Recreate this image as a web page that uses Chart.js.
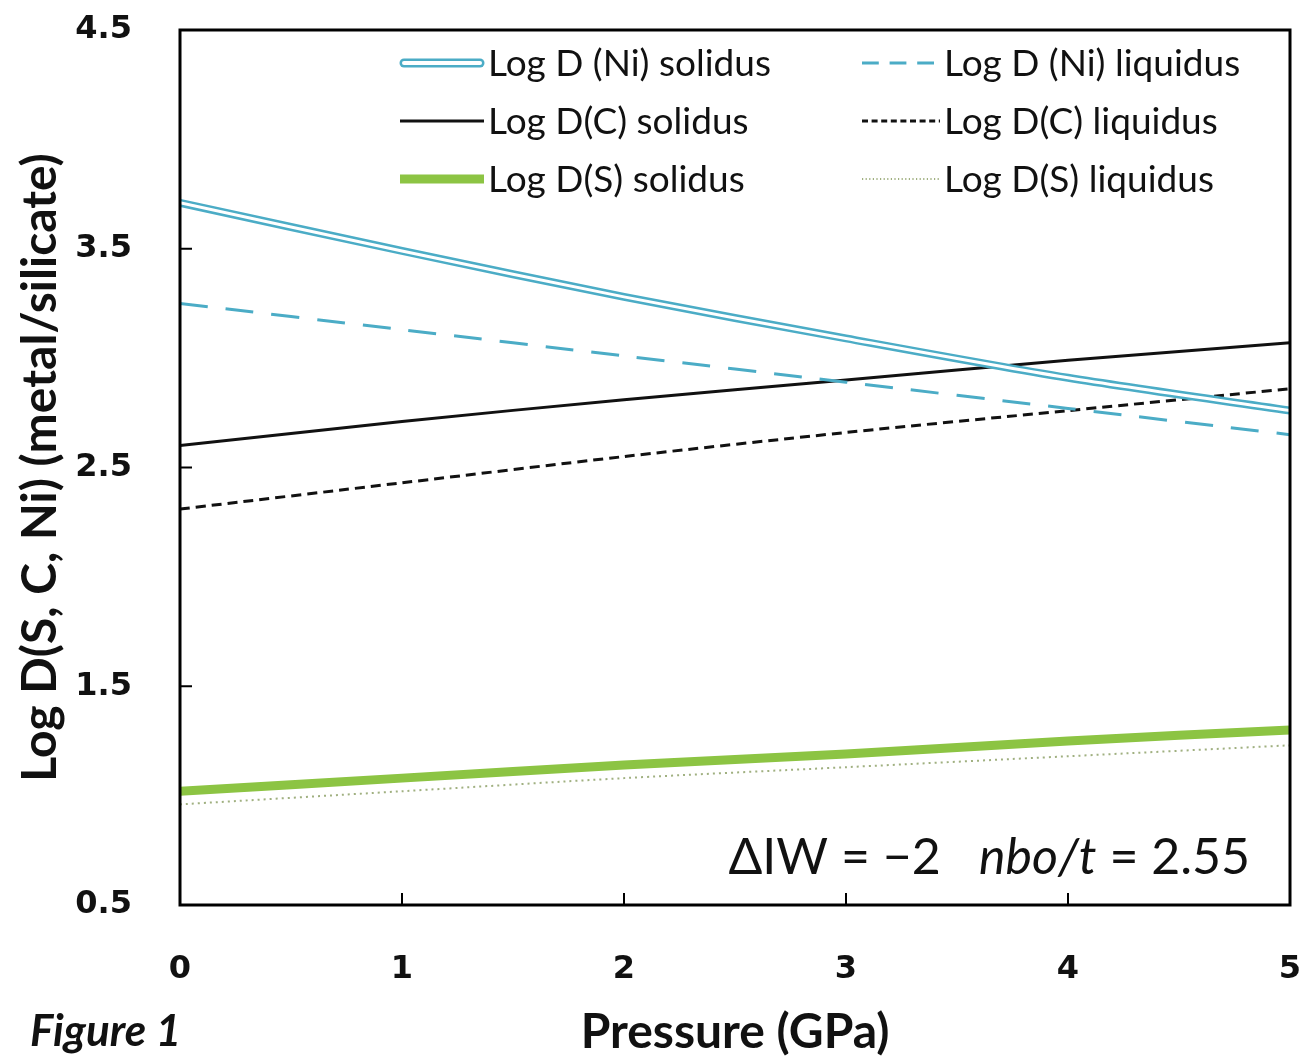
<!DOCTYPE html>
<html>
<head>
<meta charset="utf-8">
<script src="https://cdn.jsdelivr.net/npm/chart.js@4.4.1/dist/chart.umd.min.js"></script>
<style>
  html, body { margin: 0; padding: 0; background: #fff; }
  #wrap { width: 1304px; height: 1063px; }
</style>
</head>
<body>
<div id="wrap"><canvas id="chart"></canvas></div>
<script>
  'use strict';

  const pressure = [0, 1, 2, 3, 4, 5];
  const niSolidus = [3.71, 3.49, 3.28, 3.09, 2.91, 2.76];
  const niLiquidus = [3.25, 3.13, 3.01, 2.89, 2.77, 2.65];
  const cSolidus = [2.60, 2.71, 2.81, 2.90, 2.99, 3.07];
  const cLiquidus = [2.31, 2.43, 2.55, 2.66, 2.76, 2.86];
  const sSolidus = [1.02, 1.08, 1.14, 1.19, 1.25, 1.30];
  const sLiquidus = [0.96, 1.02, 1.08, 1.13, 1.18, 1.23];
  const yTicks = [0.5, 1.5, 2.5, 3.5, 4.5];
  const xTicks = [0, 1, 2, 3, 4, 5];

  const CYAN = '#4bacc6';
  const GREEN = '#8cc443';
  const TEXT_FONT = 'Lato, "Open Sans", sans-serif';
  const NUM_FONT = '"DejaVu Sans", Verdana, sans-serif';

  function pts(ys) {
    return pressure.map((x, i) => ({ x: x, y: ys[i] }));
  }

  const datasets = [
    { label: 'Log D (Ni) solidus', data: pts(niSolidus), borderColor: CYAN, borderWidth: 8, kind: 'double', order: 0 },
    { label: '_niInner', data: pts(niSolidus), borderColor: '#ffffff', borderWidth: 3, order: -1 },
    { label: 'Log D (Ni) liquidus', data: pts(niLiquidus), borderColor: CYAN, borderWidth: 3, borderDash: [28, 18] },
    { label: 'Log D(C) solidus', data: pts(cSolidus), borderColor: '#111', borderWidth: 3 },
    { label: 'Log D(C) liquidus', data: pts(cLiquidus), borderColor: '#111', borderWidth: 3, borderDash: [10, 6] },
    { label: 'Log D(S) solidus', data: pts(sSolidus), borderColor: GREEN, borderWidth: 9 },
    { label: 'Log D(S) liquidus', data: pts(sLiquidus), borderColor: '#a0b080', borderWidth: 2, borderDash: [2, 4] }
  ];
  datasets.forEach(d => {
    d.pointRadius = 0;
    d.fill = false;
    d.tension = 0.3;
    d.borderCapStyle = 'butt';
    if (d.order === undefined) d.order = 1;
  });

  // legend order: two columns, three rows
  const legendOrder = [0, 2, 3, 4, 5, 6];

  const decorations = {
    id: 'decorations',
    afterDatasetsDraw(chart) {
      const ctx = chart.ctx;
      const a = chart.chartArea;
      const xs = chart.scales.x;
      const ys = chart.scales.y;
      ctx.save();

      // frame
      ctx.strokeStyle = '#000';
      ctx.lineWidth = 3;
      ctx.strokeRect(a.left, a.top, a.right - a.left, a.bottom - a.top);

      // inward ticks
      ctx.lineWidth = 2;
      ctx.beginPath();
      xTicks.slice(1, -1).forEach(v => {
        const px = xs.getPixelForValue(v);
        ctx.moveTo(px, a.bottom);
        ctx.lineTo(px, a.bottom - 12);
      });
      yTicks.slice(1, -1).forEach(v => {
        const py = ys.getPixelForValue(v);
        ctx.moveTo(a.left, py);
        ctx.lineTo(a.left + 12, py);
      });
      ctx.stroke();

      // legend
      ctx.font = '37px ' + TEXT_FONT;
      ctx.textBaseline = 'middle';
      ctx.textAlign = 'left';
      const cols = [{ x0: 400, x1: 484 }, { x0: 862, x1: 940 }];
      const rows = [63, 121, 179];
      legendOrder.forEach((di, k) => {
        const d = chart.data.datasets[di];
        const c = cols[k % 2];
        const y = rows[Math.floor(k / 2)];
        ctx.save();
        ctx.lineCap = 'butt';
        if (d.kind === 'double') {
          ctx.lineCap = 'round';
          ctx.strokeStyle = d.borderColor;
          ctx.lineWidth = 9;
          ctx.beginPath(); ctx.moveTo(c.x0 + 4, y); ctx.lineTo(c.x1 - 4, y); ctx.stroke();
          ctx.strokeStyle = '#fff';
          ctx.lineWidth = 4;
          ctx.beginPath(); ctx.moveTo(c.x0 + 4, y); ctx.lineTo(c.x1 - 4, y); ctx.stroke();
        } else {
          ctx.strokeStyle = d.borderColor;
          ctx.lineWidth = d.borderWidth;
          ctx.setLineDash(d.borderDash ? d.borderDash.map(v => v * 0.6) : []);
          ctx.beginPath(); ctx.moveTo(c.x0, y); ctx.lineTo(c.x1, y); ctx.stroke();
        }
        ctx.restore();
        ctx.fillStyle = '#111';
        ctx.fillText(d.label, c.x1 + 4, y + 1);
      });

      // annotation, right aligned
      ctx.textBaseline = 'alphabetic';
      ctx.fillStyle = '#111';
      const parts = [
        { t: '\u0394IW = \u22122   ', f: '50px ' + TEXT_FONT },
        { t: 'nbo/t', f: 'italic 50px ' + TEXT_FONT },
        { t: ' = 2.55', f: '50px ' + TEXT_FONT }
      ];
      let total = 0;
      parts.forEach(p => { ctx.font = p.f; total += ctx.measureText(p.t).width; });
      let x = 1250 - total;
      parts.forEach(p => {
        ctx.font = p.f;
        ctx.fillText(p.t, x, 874);
        x += ctx.measureText(p.t).width;
      });

      // figure label
      ctx.font = 'italic bold 44px ' + TEXT_FONT;
      ctx.fillText('Figure 1', 30, 1046);
      ctx.restore();
    }
  };

  new Chart(document.getElementById('chart'), {
    type: 'line',
    data: { datasets: datasets },
    options: {
      responsive: true,
      maintainAspectRatio: false,
      animation: false,
      layout: { padding: { top: 30, right: 14, left: 0, bottom: 0 } },
      plugins: {
        legend: { display: false },
        tooltip: { enabled: false }
      },
      scales: {
        x: {
          type: 'linear',
          min: 0,
          max: 5,
          afterBuildTicks: s => { s.ticks = xTicks.map(v => ({ value: v })); },
          afterFit: s => { s.height = 158; s.paddingLeft = 0; s.paddingRight = 0; },
          grid: { display: false, drawTicks: true, tickLength: 43 },
          border: { display: false },
          ticks: {
            color: '#111',
            padding: 2,
            font: { family: NUM_FONT, weight: 'bold', size: 32 },
            maxRotation: 0
          },
          title: {
            display: true,
            text: 'Pressure (GPa)',
            color: '#111',
            padding: { top: 0, bottom: 2 },
            font: { family: TEXT_FONT, weight: 'bold', size: 48 }
          }
        },
        y: {
          type: 'linear',
          min: 0.5,
          max: 4.5,
          afterBuildTicks: s => { s.ticks = yTicks.map(v => ({ value: v })); },
          afterFit: s => { s.width = 180; s.paddingTop = 0; s.paddingBottom = 0; },
          grid: { display: false, drawTicks: true, tickLength: 46 },
          border: { display: false },
          ticks: {
            color: '#111',
            padding: 2,
            font: { family: NUM_FONT, weight: 'bold', size: 32 },
            callback: v => v.toFixed(1)
          },
          title: {
            display: true,
            text: 'Log D(S, C, Ni) (metal/silicate)',
            color: '#111',
            padding: { top: 12, bottom: 0 },
            font: { family: TEXT_FONT, weight: 'bold', size: 48 }
          }
        }
      }
    },
    plugins: [decorations]
  });
</script>
</body>
</html>
